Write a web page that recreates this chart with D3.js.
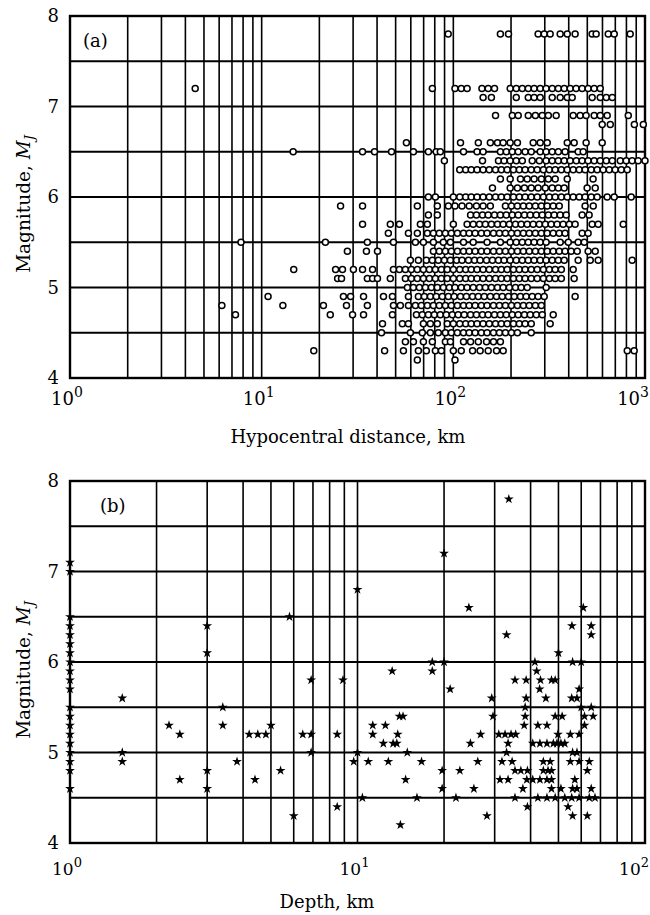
<!DOCTYPE html>
<html>
<head>
<meta charset="utf-8">
<script src="https://cdn.jsdelivr.net/npm/d3@7"></script>
<style>
  body { margin: 0; background: #fff; }
  text { font-family: "DejaVu Serif", "Liberation Serif", serif; fill: #000; }
</style>
</head>
<body>
<div id="chart"></div>
<script>
// ---- panel (a): magnitude rows and the hypocentral distances (km) on each row
const magRowsA = [7.8, 7.2, 7.1, 6.9, 6.8, 6.6, 6.5, 6.4, 6.3, 6.2, 6.1, 6.0, 5.9, 5.8, 5.7,
    5.6, 5.5, 5.4, 5.3, 5.2, 5.1, 5.0, 4.9, 4.8, 4.7, 4.6, 4.5, 4.4, 4.3, 4.2];
const distRowsA = [
    [94, 176, 194, 277, 298, 320, 361, 393, 432, 530, 556, 643, 691, 837],
    [4.5, 77.7, 102, 110, 118, 141, 152, 164, 198, 213, 229, 246, 264, 284, 305, 328, 353, 379, 407, 437, 470, 505, 543, 584],
    [143, 158, 213, 246, 264, 284, 328, 361, 393, 417, 530, 584, 628, 675],
    [166, 203, 218, 246, 268, 291, 313, 344, 422, 459, 493, 543, 584, 635, 818],
    [598, 659, 880, 980],
    [56.9, 109, 135, 156, 170, 182, 198, 216, 261, 284, 309, 393, 427, 493, 598],
    [14.6, 33.6, 38.8, 47.6, 61.9, 74.1, 81.4, 85.5, 113, 133, 143, 176, 189, 203, 218, 237, 255, 284, 305, 328, 353, 383, 448, 476],
    [89.8, 142, 172, 184, 198, 213, 229, 258, 281, 305, 328, 353, 379, 407, 438, 470, 505, 543, 584, 628, 675, 743, 798, 857, 921, 1000],
    [108, 116, 124, 133, 143, 154, 166, 178, 191, 206, 221, 237, 255, 274, 295, 317, 340, 366, 393, 422, 454, 487, 524, 563, 605, 651, 699, 752, 808],
    [176, 198, 224, 243, 264, 288, 313, 340, 393, 536],
    [160, 198, 216, 235, 255, 277, 302, 328, 353, 379, 499, 550],
    [74.1, 80.6, 100, 108, 116, 124, 133, 143, 154, 166, 178, 191, 206, 221, 237, 255, 274, 295, 317, 340, 366, 393, 422, 454, 487, 524, 563, 635, 691, 847],
    [25.8, 33.6, 64.9, 82.5, 94.2, 102, 111, 121, 132, 143, 156, 187, 201, 216, 232, 249, 268, 288, 309, 332, 357, 487, 537],
    [74.1, 82.5, 123, 132, 142, 152, 164, 176, 189, 203, 218, 235, 252, 271, 291, 313, 336, 361, 388, 470, 511],
    [33.6, 46.9, 52.3, 67.3, 73.2, 100, 118, 127, 137, 147, 158, 170, 182, 196, 211, 226, 243, 261, 281, 302, 324, 348, 374, 403, 432, 530, 570, 770],
    [45.8, 58.3, 64.9, 73.2, 78.7, 84.5, 90.9, 97.6, 105, 113, 121, 130, 140, 150, 162, 174, 187, 201, 216, 232, 249, 268, 288, 309, 332, 357, 383, 470, 505],
    [7.8, 21.5, 35.6, 48.7, 63.4, 69.8, 78.7, 88.7, 96.5, 113, 127, 150, 176, 198, 213, 229, 246, 264, 284, 305, 361, 398, 448, 482],
    [28, 35.2, 40.2, 78.7, 84.5, 90.9, 97.6, 105, 113, 121, 130, 140, 150, 162, 174, 187, 201, 216, 232, 249, 268, 288, 309, 332, 357, 383, 412, 443, 505, 550],
    [59.7, 65.7, 72.3, 77.7, 83.5, 89.8, 96.5, 104, 111, 120, 129, 138, 149, 160, 172, 184, 198, 213, 229, 246, 264, 284, 305, 328, 353, 379, 448, 518, 570, 857],
    [14.7, 24.3, 26.4, 30.1, 33.6, 37.9, 48.7, 52.3, 56.2, 60.4, 64.9, 69.8, 75, 80.6, 86.6, 93, 100, 108, 116, 124, 133, 143, 154, 166, 178, 191, 206, 221, 237, 255, 274, 295, 317, 340, 366, 422],
    [24.9, 26.1, 35.6, 37.9, 40.2, 46.9, 56.2, 60.4, 64.9, 69.8, 75, 80.6, 86.6, 93, 100, 108, 116, 124, 133, 143, 154, 166, 178, 191, 206, 221, 237, 255, 274, 295, 317, 340, 366, 427],
    [57.6, 61.9, 66.5, 71.5, 76.8, 82.5, 88.7, 95.3, 102, 110, 118, 127, 137, 147, 158, 170, 182, 196, 211, 226, 243, 305],
    [10.8, 26.7, 29.1, 34, 43.2, 48.1, 58.3, 65.7, 70.6, 75.9, 81.5, 87.6, 94.2, 101, 109, 117, 126, 135, 145, 156, 168, 180, 194, 208, 224, 240, 258, 277, 298, 432],
    [6.2, 12.9, 21, 27.7, 35.6, 48.7, 52.9, 58.3, 63.4, 68.1, 73.2, 78.7, 84.5, 90.9, 97.6, 105, 113, 121, 130, 140, 150, 162, 174, 187, 201, 216, 232, 249, 268, 288],
    [7.3, 22.8, 29.8, 34, 48.1, 64.2, 68.9, 74.1, 79.6, 85.5, 91.9, 98.8, 106, 114, 123, 132, 142, 152, 164, 176, 189, 203, 218, 235, 252, 271, 291, 332],
    [42.7, 54.2, 58.3, 69.8, 75.9, 82.5, 93, 100, 108, 116, 124, 133, 143, 154, 166, 178, 191, 206, 221, 237, 255, 320],
    [42.2, 59.7, 68.9, 75.9, 83.5, 90.9, 97.6, 105, 113, 121, 130, 140, 150, 162, 174, 187, 201, 216, 255],
    [56.2, 61.9, 69.8, 77.7, 90.9, 96.5, 113, 123, 135, 149, 162, 176],
    [18.7, 43.8, 54.9, 65.7, 72.3, 80.6, 86.6, 100, 110, 126, 138, 152, 168, 182, 808, 878],
    [64.9, 102]
];

// ---- panel (b): [depth km, magnitude] for each event
const depthPointsB = [
    [1, 7.1], [1, 7.0], [1, 6.5], [1, 6.4], [1, 6.3], [1, 6.2], [1, 6.1], [1, 6.0], [1, 5.9], [1, 5.8],
    [1, 5.7], [1, 5.5], [1, 5.4], [1, 5.3], [1, 5.2], [1, 5.1], [1, 5.0], [1, 4.9], [1, 4.8], [1, 4.6],
    [3.0, 6.4], [3.0, 6.1], [5.8, 6.5],
    [33.6, 7.8], [20, 7.2], [10, 6.8], [24.4, 6.6], [61, 6.6], [55.7, 6.4], [65, 6.4], [65, 6.3], [33, 6.3],
    [50, 6.1], [18.2, 6.0], [20, 6.0], [13.2, 5.9], [18.2, 5.9], [41.4, 6.0], [42, 5.9], [56, 6.0], [60, 6.0],
    [1.52, 5.6], [1.52, 5.0], [1.52, 4.9], [2.21, 5.3], [2.41, 5.2], [2.41, 4.7], [3.0, 4.8], [3.0, 4.6],
    [3.4, 5.5], [3.4, 5.3], [3.81, 4.9], [4.2, 5.2], [4.5, 5.2], [4.8, 5.2], [5.0, 5.3], [4.4, 4.7], [5.4, 4.8],
    [6.0, 4.3], [6.45, 5.2], [6.9, 5.2], [6.9, 5.8], [6.9, 5.0],
    [8.9, 5.8], [8.5, 5.2], [9.7, 4.9], [10, 5.0], [8.5, 4.4], [10.4, 4.5], [10.9, 4.9], [12.8, 4.9],
    [11.3, 5.3], [12.5, 5.3], [11.3, 5.2], [13.8, 5.2], [12.3, 5.1], [13.3, 5.1], [13.7, 5.1], [14.0, 5.4],
    [14.4, 5.4], [14.9, 5.0], [14.7, 4.7], [16.7, 4.9], [16.1, 4.5], [14.1, 4.2],
    [21, 5.7], [19.7, 4.8], [19.7, 4.6], [22.7, 4.8], [22, 4.5], [24.7, 5.1], [26.8, 5.2], [26.2, 4.9],
    [25.4, 4.6], [28.2, 4.3], [29.3, 5.6], [29.6, 5.4], [31, 5.2], [32.6, 5.2], [34.2, 5.2], [35.5, 5.2],
    [33.4, 5.1], [33, 5.0], [31.8, 4.9], [34.5, 4.9], [35.3, 4.8], [37, 4.8], [31.3, 4.7], [33.4, 4.7],
    [35.3, 4.5], [37.6, 4.6], [35.3, 5.8], [38.6, 5.8], [38.6, 5.6], [38.3, 5.4], [38, 5.3], [39, 4.4],
    [39, 4.8], [38.8, 4.7], [38.3, 5.5],
    [43.3, 5.8], [47.3, 5.8], [48.7, 5.8], [43, 5.7], [45.2, 5.6], [42.4, 5.3], [45.6, 5.3], [40.7, 5.1],
    [43.1, 5.1], [45.6, 5.1], [48, 5.1], [49.4, 5.1], [51, 5.1], [52.6, 5.1], [48.7, 5.4], [51.5, 5.4],
    [49.8, 5.2], [44.3, 4.9], [46.8, 4.9], [44.3, 4.8], [46, 4.8], [47.3, 4.8], [40.7, 4.7], [43.1, 4.7],
    [45.6, 4.7], [47.3, 4.7], [47.3, 4.6], [51, 4.6], [42.4, 4.5], [45.6, 4.5], [48.7, 4.5], [52.6, 4.5],
    [54, 4.4], [56, 4.3], [63, 4.3],
    [55.6, 5.6], [58, 5.6], [59, 5.7], [60, 5.5], [65, 5.5], [61.6, 5.4], [66, 5.4], [61.6, 5.3],
    [55, 5.2], [59, 5.2], [56, 5.0], [58, 5.0], [55, 4.9], [59, 4.9], [64, 4.9], [63, 4.8], [57, 4.7],
    [56, 4.6], [58, 4.6], [65, 4.6], [55.6, 4.5], [59, 4.5], [64, 4.5], [67, 4.5]
];

// ---- axes
const magTicks = [4, 5, 6, 7, 8];
const magGrid = [4.5, 5, 5.5, 6, 6.5, 7, 7.5];
const decadesA = [1, 10, 100, 1000];
const decadesB = [1, 10, 100];

const width = 650, height = 915;
const svg = d3.select("#chart").append("svg")
    .attr("width", width)
    .attr("height", height);

function drawPanel(cfg) {
    let x = d3.scaleLog().domain(cfg.xDomain).range([cfg.left, cfg.right]);
    let y = d3.scaleLinear().domain([4, 8]).range([cfg.bottom, cfg.top]);
    let g = svg.append("g");

    // vertical grid: 2..9 within each decade, plus inner decades
    let vLines = [];
    for (let i = 0; i < cfg.decades.length - 1; i++) {
        let base = cfg.decades[i];
        for (let m = 1; m <= 9; m++) {
            if (m == 1 && i == 0) continue;
            vLines.push(base * m);
        }
    }
    g.append("g").selectAll("line").data(vLines).join("line")
        .attr("x1", d => x(d)).attr("x2", d => x(d))
        .attr("y1", cfg.top).attr("y2", cfg.bottom)
        .attr("stroke", "#000").attr("stroke-width", 1.6);

    g.append("g").selectAll("line").data(magGrid).join("line")
        .attr("x1", cfg.left).attr("x2", cfg.right)
        .attr("y1", d => y(d)).attr("y2", d => y(d))
        .attr("stroke", "#000").attr("stroke-width", 1.8);

    g.append("rect")
        .attr("x", cfg.left).attr("y", cfg.top)
        .attr("width", cfg.right - cfg.left).attr("height", cfg.bottom - cfg.top)
        .attr("fill", "none").attr("stroke", "#000").attr("stroke-width", 2.4);

    // y tick labels
    g.append("g").selectAll("text").data(magTicks).join("text")
        .attr("x", cfg.left - 11).attr("y", d => y(d) + 6)
        .attr("text-anchor", "end")
        .attr("font-size", 18)
        .text(d => d);

    // x tick labels, 10 with a raised exponent; the last one kept inside the page
    let last = cfg.decades[cfg.decades.length - 1];
    let xt = g.append("g").selectAll("text").data(cfg.decades).join("text")
        .attr("x", d => d == last ? width - 1 : x(d) - 3)
        .attr("y", cfg.bottom + cfg.tickDy)
        .attr("text-anchor", d => d == last ? "end" : "middle")
        .attr("font-size", cfg.tickSize);
    xt.append("tspan").text("10");
    xt.append("tspan").attr("dy", -8).attr("font-size", cfg.tickSize - 4)
        .text(d => Math.round(Math.log10(d)));

    // axis titles
    g.append("text")
        .attr("x", cfg.xLabelX).attr("y", cfg.xLabelY)
        .attr("text-anchor", "middle").attr("font-size", 18)
        .text(cfg.xLabel);

    let yl = g.append("text")
        .attr("transform", `translate(30, ${cfg.yLabelY}) rotate(-90)`)
        .attr("text-anchor", "middle").attr("font-size", 18.5);
    yl.append("tspan").text("Magnitude, ");
    yl.append("tspan").attr("font-style", "italic").text("M");
    yl.append("tspan").attr("font-style", "italic").attr("font-size", 13).attr("dy", 4).text("J");

    g.append("text")
        .attr("x", cfg.tagX).attr("y", cfg.top + 31)
        .attr("font-size", 18)
        .text(cfg.tag);

    return { x, y, g };
}

// ---- panel (a)
let pa = drawPanel({
    top: 16, bottom: 378, left: 70, right: 645,
    xDomain: [1, 1000], decades: decadesA, tickDy: 27, tickSize: 18,
    xLabel: "Hypocentral distance, km", xLabelX: 348, xLabelY: 443,
    yLabelY: 204, tag: "(a)", tagX: 83
});
let pointsA = [];
magRowsA.forEach((m, i) => distRowsA[i].forEach(d => pointsA.push({ d, m })));
pa.g.append("g").selectAll("circle").data(pointsA).join("circle")
    .attr("cx", p => pa.x(p.d))
    .attr("cy", p => pa.y(p.m))
    .attr("r", 3)
    .attr("fill", "#fff")
    .attr("stroke", "#000")
    .attr("stroke-width", 1.5);

// ---- panel (b)
let pb = drawPanel({
    top: 481, bottom: 843, left: 70, right: 645,
    xDomain: [1, 100], decades: decadesB, tickDy: 32, tickSize: 17,
    xLabel: "Depth, km", xLabelX: 327, xLabelY: 908,
    yLabelY: 670, tag: "(b)", tagX: 100
});
let star = d3.symbol().type(d3.symbolStar).size(30);
pb.g.append("g").selectAll("path").data(depthPointsB).join("path")
    .attr("transform", p => `translate(${pb.x(p[0])}, ${pb.y(p[1])})`)
    .attr("d", star)
    .attr("fill", "#000");
</script>
</body>
</html>
